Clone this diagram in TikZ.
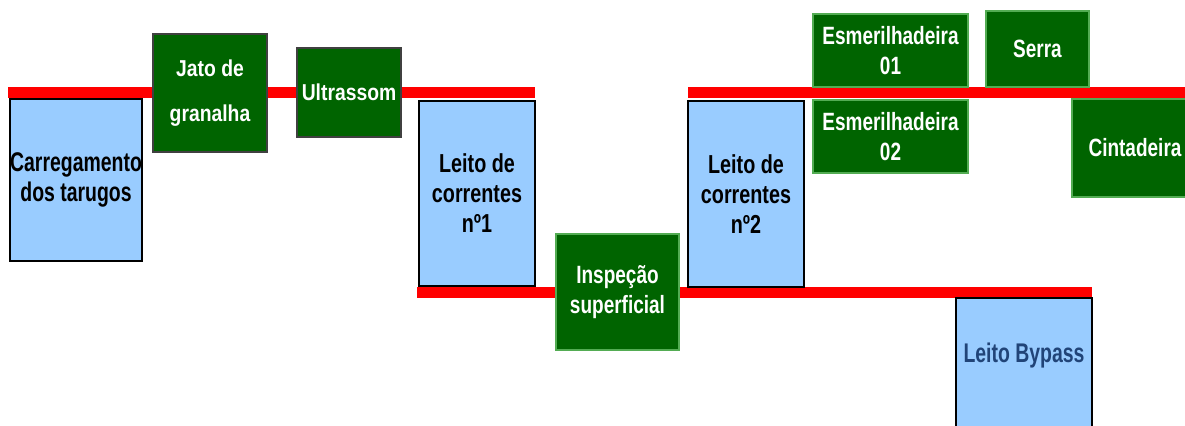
\documentclass[tikz,border=0pt]{standalone}
\usepackage{fontspec}
\setmainfont{Liberation Sans}[FakeStretch=0.76]
\newfontfamily\widerfont{Liberation Sans}[FakeStretch=0.84]
\newfontfamily\narrowfont{Liberation Sans}[FakeStretch=0.72]
\usetikzlibrary{backgrounds}
\definecolor{beltred}{RGB}{255,0,0}
\definecolor{machgreen}{RGB}{0,100,0}
\definecolor{bedblue}{RGB}{153,204,255}
\definecolor{bypassblue}{RGB}{33,68,120}
\tikzset{
  bed/.style={draw=black, line width=0.6pt, fill=bedblue, align=center,
    inner sep=0pt, outer sep=0pt, font=\fontsize{13}{15}\selectfont\bfseries},
  machine/.style={draw=green!35!gray, line width=0.6pt, fill=machgreen, text=white,
    align=center, inner sep=0pt, outer sep=0pt, font=\fontsize{12.5}{15}\selectfont\bfseries},
  blast/.style={machine, draw=black!75, font=\widerfont\fontsize{11.5}{22.5}\selectfont\bfseries},
  belt/.style={draw=beltred, line width=5.5pt},
}

\begin{document}
\begin{tikzpicture}[x=0.5pt, y=-0.5pt]
  \useasboundingbox (0,0) rectangle (1185,425);
  \clip (0,0) rectangle (1185,425);

  % Define nodes
  \node[bed, font=\narrowfont\fontsize{13.5}{15}\selectfont\bfseries,
    minimum width=66pt, minimum height=81pt] (load) at (76,180) {Carregamento\\dos tarugos};
  \node[blast, minimum width=57pt, minimum height=59pt] (jato) at (210,93) {Jato de\\granalha};
  \node[blast, minimum width=52pt, minimum height=44.5pt] (ultra) at (349,92.5) {Ultrassom};
  \node[bed, minimum width=58pt, minimum height=92.5pt] (leito1) at (477,193.5) {Leito de\\correntes\\nº1};
  \node[machine, minimum width=61.5pt, minimum height=58pt] (insp) at (617.5,292) {Inspeção\\superficial};
  \node[bed, minimum width=58pt, minimum height=93pt] (leito2) at (746,194) {Leito de\\correntes\\nº2};
  \node[machine, minimum width=77.5pt, minimum height=36.5pt] (esm1) at (890.5,50.5) {Esmerilhadeira\\01};
  \node[machine, minimum width=51.5pt, minimum height=38pt] (serra) at (1037.5,49) {Serra};
  \node[machine, minimum width=77.5pt, minimum height=36.5pt] (esm2) at (890.5,136.5) {Esmerilhadeira\\02};
  \node[machine, minimum width=63pt, minimum height=49pt] (cinta) at (1135,148) {Cintadeira};
  \node[bed, text=bypassblue, font=\narrowfont\fontsize{13.5}{15}\selectfont\bfseries,
    minimum width=68pt, minimum height=71pt,
    text height=9.5pt, text depth=16.5pt] (bypass) at (1024,369) {Leito Bypass};

  % Belts
  \coordinate (b1) at (8,92.5);
  \coordinate (b2) at (1185,92.5);
  \coordinate (b3) at (417,292.5);
  \begin{scope}[on background layer]
    \draw[belt] (b1) -- (b1 -| leito1.east);
    \draw[belt] (b2 -| leito2.west) -- (b2);
    \draw[belt] (b3) -- (b3 -| bypass.east);
  \end{scope}
\end{tikzpicture}
\end{document}
